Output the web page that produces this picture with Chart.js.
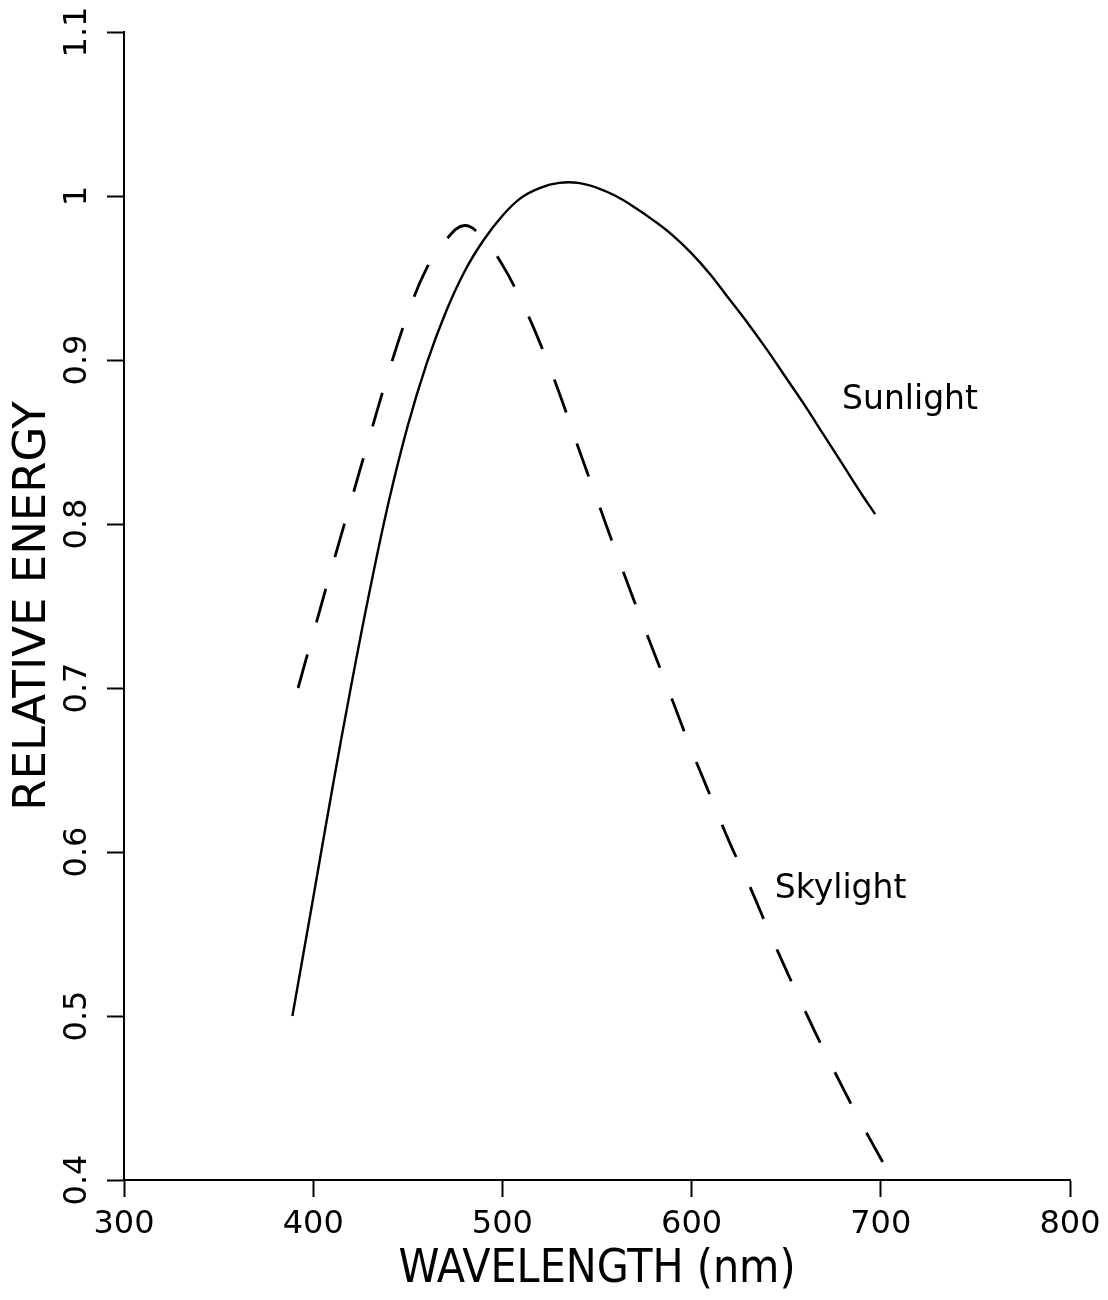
<!DOCTYPE html>
<html>
<head>
<meta charset="utf-8">
<script src="https://cdn.jsdelivr.net/npm/chart.js@4/dist/chart.umd.min.js"></script>
<style>
    html, body { margin: 0; padding: 0; background: #fff; }
    #wrap { width: 1108px; height: 1300px; position: relative; }
</style>
</head>
<body>
<div id="wrap"><canvas id="spectrumChart"></canvas></div>
<script>
// wavelength (nm) / relative energy
const sunWavelength = [389, 400, 410, 420, 430, 440, 450, 460, 470, 480, 490, 500, 510, 520, 530, 540, 550, 560, 570, 580, 590, 600, 610, 620, 630, 640, 650, 660, 670, 680, 690, 697];
const sunEnergy     = [0.500, 0.572, 0.638, 0.701, 0.760, 0.814, 0.860, 0.898, 0.929, 0.954, 0.973, 0.988, 0.999, 1.005, 1.008, 1.008, 1.005, 1.000, 0.993, 0.985, 0.976, 0.965, 0.952, 0.937, 0.922, 0.906, 0.889, 0.872, 0.854, 0.836, 0.818, 0.806];

const skyWavelength = [392, 400, 410, 420, 430, 440, 450, 460, 470, 480, 490, 500, 510, 520, 530, 540, 550, 560, 570, 580, 590, 600, 610, 620, 630, 640, 650, 660, 670, 680, 690, 701];
const skyEnergy     = [0.700, 0.733, 0.774, 0.814, 0.854, 0.893, 0.928, 0.956, 0.973, 0.982, 0.974, 0.958, 0.936, 0.910, 0.880, 0.847, 0.815, 0.783, 0.752, 0.722, 0.692, 0.662, 0.634, 0.606, 0.581, 0.554, 0.528, 0.503, 0.479, 0.456, 0.434, 0.411];

const xTickValues = [300, 400, 500, 600, 700, 800];
const yTickValues = [0.4, 0.5, 0.6, 0.7, 0.8, 0.9, 1.0, 1.1];

const curveNames = ['Sunlight', 'Skylight'];

// where the curve names sit, in data units (left edge / baseline)
const nameSpots = [
    { x: 679.5, y: 0.870 },
    { x: 644, y: 0.572 }
];

const toPoints = (xs, ys) => xs.map((v, i) => ({ x: v, y: ys[i] }));

const curveLabels = {
    id: 'curveLabels',
    afterDatasetsDraw(chart) {
        const { ctx, scales: { x, y } } = chart;
        ctx.save();
        ctx.fillStyle = '#000';
        ctx.font = '33px "DejaVu Sans"';
        ctx.textAlign = 'left';
        ctx.textBaseline = 'alphabetic';
        curveNames.forEach((name, i) => {
            ctx.fillText(name, x.getPixelForValue(nameSpots[i].x), y.getPixelForValue(nameSpots[i].y));
        });
        ctx.restore();
    }
};

const axisGrid = {
    drawOnChartArea: false,
    drawTicks: true,
    tickLength: 17,
    tickWidth: 2,
    tickColor: '#000'
};
const axisBorder = { display: true, color: '#000', width: 2 };
const tickFont = { family: 'DejaVu Sans', size: 32 };

new Chart(document.getElementById('spectrumChart'), {
    type: 'line',
    data: {
        datasets: [
            {
                label: curveNames[0],
                data: toPoints(sunWavelength, sunEnergy),
                borderColor: '#000',
                borderWidth: 2.4,
                pointRadius: 0,
                tension: 0.4,
                fill: false
            },
            {
                label: curveNames[1],
                data: toPoints(skyWavelength, skyEnergy),
                borderColor: '#000',
                borderWidth: 2.8,
                borderDash: [35, 33],
                pointRadius: 0,
                tension: 0.4,
                fill: false
            }
        ]
    },
    options: {
        responsive: true,
        maintainAspectRatio: false,
        animation: false,
        layout: { padding: { top: 32, right: 38, left: 0, bottom: 0 } },
        scales: {
            x: {
                type: 'linear',
                min: 300,
                max: 800,
                afterBuildTicks: s => { s.ticks = xTickValues.map(v => ({ value: v })); },
                afterFit: s => { s.height = 120; s.paddingLeft = 0; s.paddingRight = 0; },
                grid: axisGrid,
                border: axisBorder,
                ticks: { color: '#000', font: tickFont, padding: 8, maxRotation: 0, autoSkip: false },
                title: {
                    display: true,
                    text: 'WAVELENGTH (nm)',
                    color: '#000',
                    font: { family: "'Liberation Sans Narrow', 'DejaVu Sans Condensed', 'DejaVu Sans'", size: 46 },
                    padding: { top: 0, bottom: 2 }
                }
            },
            y: {
                type: 'linear',
                min: 0.4,
                max: 1.1,
                afterBuildTicks: s => { s.ticks = yTickValues.map(v => ({ value: v })); },
                afterFit: s => { s.width = 124; s.paddingTop = 0; s.paddingBottom = 0; },
                grid: axisGrid,
                border: axisBorder,
                ticks: {
                    color: '#000',
                    font: tickFont,
                    padding: 4,
                    minRotation: 90,
                    maxRotation: 90,
                    crossAlign: 'center',
                    callback: v => String(v)
                },
                title: {
                    display: true,
                    text: 'RELATIVE ENERGY',
                    color: '#000',
                    font: { family: 'DejaVu Sans', size: 45 },
                    padding: { top: 6, bottom: 0 }
                }
            }
        },
        plugins: {
            legend: { display: false },
            tooltip: { enabled: false }
        }
    },
    plugins: [curveLabels]
});
</script>
</body>
</html>
